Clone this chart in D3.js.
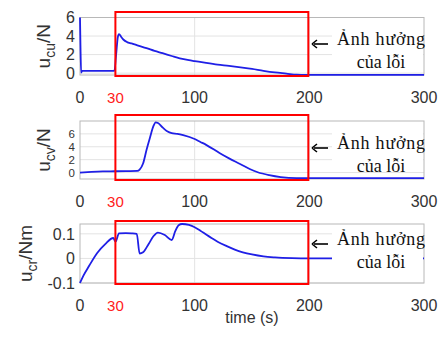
<!DOCTYPE html>
<html>
<head>
<meta charset="utf-8">
<script src="https://cdn.jsdelivr.net/npm/d3@7"></script>
<style>
  body { margin: 0; background: #fff; }
  svg { display: block; }
</style>
</head>
<body>
<figure id="chart" style="margin:0"></figure>
<script>
// time axis shared by the three panels
const xTicks = [0, 100, 200, 300];
const faultStart = 30;
const faultEnd = 200;

// u_cu (N)
const cuTime = [0, 0.4, 1, 2, 10, 20, 30, 31.5, 33, 34, 36, 38, 41, 45, 50, 58, 65, 72, 80, 87, 95, 100, 110, 120, 130, 140, 150, 160, 170, 180, 189, 200, 250, 300];
const cuValue = [6, 3, 0.05, 0.25, 0.25, 0.25, 0.25, 2.0, 3.9, 4.2, 3.9, 3.6, 3.35, 3.2, 3.0, 2.7, 2.4, 2.15, 1.85, 1.6, 1.4, 1.3, 1.1, 0.92, 0.78, 0.62, 0.45, 0.25, 0.08, -0.05, -0.17, -0.18, -0.18, -0.18];
const cuTicks = [0, 2, 4, 6];

// u_cv (N)
const cvTime = [0, 10, 20, 30, 40, 50, 52, 55, 58, 61, 64, 66, 68, 72, 76, 80, 85, 90, 100, 105, 110, 122, 130, 140, 148, 155, 165, 175, 189, 200, 250, 300];
const cvValue = [0, 0.1, 0.17, 0.2, 0.23, 0.25, 0.45, 1.4, 3.5, 5.4, 7.2, 7.8, 7.7, 7.0, 6.4, 6.1, 6.0, 5.8, 5.2, 4.75, 4.3, 3.0, 2.2, 1.3, 0.55, 0.05, -0.4, -0.7, -0.85, -0.85, -0.85, -0.85];
const cvTicks = [0, 2, 4, 6];

// u_cr (Nm)
const crTime = [0, 3, 8, 15, 22, 29, 31, 34, 40, 45, 49.5, 52, 55, 60, 64, 68, 74, 80, 83, 86, 89, 95, 100, 105, 110, 115, 120, 128, 135, 142, 150, 160, 170, 185, 200, 250, 300];
const crValue = [-0.1, -0.07, -0.03, 0.022, 0.058, 0.083, 0.068, 0.102, 0.103, 0.102, 0.1, 0.02, 0.025, 0.06, 0.09, 0.105, 0.095, 0.075, 0.11, 0.135, 0.14, 0.136, 0.127, 0.113, 0.097, 0.082, 0.068, 0.05, 0.036, 0.025, 0.016, 0.008, 0.004, 0.001, 0, 0, 0];
const crTicks = [-0.1, 0, 0.1];

const panels = [
  { time: cuTime, value: cuValue, ticks: cuTicks, domain: [-0.2, 6], top: 17.5, bottom: 75,
    label: ["u", "cu", "/N"], labelX: 50, tickSize: 16, rectTop: 12, noteY: 40 },
  { time: cvTime, value: cvValue, ticks: cvTicks, domain: [-1, 8], top: 121, bottom: 179,
    label: ["u", "cv", "/N"], labelX: 50, tickSize: 11.5, rectTop: 115, noteY: 144 },
  { time: crTime, value: crValue, ticks: crTicks, domain: [-0.1, 0.14], top: 224, bottom: 283,
    label: ["u", "cr", "/Nm"], labelX: 32, tickSize: 16, rectTop: 221, noteY: 240 }
];

const width = 441, height = 338;
const left = 80, right = 424;
const grey = "#333";
const fmtY = (d) => (d === 0 ? "0" : Number.isInteger(d) ? String(d) : d.toFixed(1));

const svg = d3.select("#chart").append("svg")
  .attr("width", width)
  .attr("height", height);

const x = d3.scaleLinear().domain([0, 300]).range([left, right]);

panels.forEach((p) => {
  const y = d3.scaleLinear().domain(p.domain).range([p.bottom, p.top]);
  const g = svg.append("g");

  // grid
  g.selectAll(".gy").data(p.ticks).enter().append("line")
    .attr("x1", left).attr("x2", right)
    .attr("y1", (d) => y(d)).attr("y2", (d) => y(d))
    .attr("stroke", "#e3e3e3").attr("stroke-width", 1);
  g.selectAll(".gx").data(xTicks.slice(1, -1)).enter().append("line")
    .attr("x1", (d) => x(d)).attr("x2", (d) => x(d))
    .attr("y1", p.top).attr("y2", p.bottom)
    .attr("stroke", "#e3e3e3").attr("stroke-width", 1);

  // axes box
  g.append("rect")
    .attr("x", left).attr("y", p.top)
    .attr("width", right - left).attr("height", p.bottom - p.top)
    .attr("fill", "none").attr("stroke", "#b8b8b8").attr("stroke-width", 1);

  // curve
  const line = d3.line()
    .x((d) => x(d[0]))
    .y((d) => y(d[1]))
    .curve(d3.curveMonotoneX);
  g.append("path")
    .datum(d3.zip(p.time, p.value))
    .attr("d", line)
    .attr("fill", "none")
    .attr("stroke", "#1f1fe6")
    .attr("stroke-width", 1.8);

  // y tick labels
  g.selectAll(".ty").data(p.ticks).enter().append("text")
    .attr("x", left - 5)
    .attr("y", (d) => y(d))
    .attr("dy", "0.36em")
    .attr("text-anchor", "end")
    .attr("fill", grey)
    .style("font", p.tickSize + "px 'Liberation Sans', Arial, sans-serif")
    .text(fmtY);

  // x tick labels
  g.selectAll(".tx").data(xTicks).enter().append("text")
    .attr("x", (d) => x(d))
    .attr("y", p.bottom + 28)
    .attr("text-anchor", "middle")
    .attr("fill", grey)
    .style("font", "16px 'Liberation Sans', Arial, sans-serif")
    .text((d) => d);
  g.append("text")
    .attr("x", x(faultStart) + 1)
    .attr("y", p.bottom + 28)
    .attr("text-anchor", "middle")
    .attr("fill", "#ff2020")
    .style("font", "15px 'Liberation Sans', Arial, sans-serif")
    .text(faultStart);

  // y label
  const lab = g.append("text")
    .attr("transform", `translate(${p.labelX},${(p.top + p.bottom) / 2}) rotate(-90)`)
    .attr("text-anchor", "middle")
    .attr("fill", grey)
    .style("font", "19px 'Liberation Sans', Arial, sans-serif");
  lab.append("tspan").text(p.label[0]);
  lab.append("tspan").attr("dy", 5).style("font-size", "14px").text(p.label[1]);
  lab.append("tspan").attr("dy", -5).text(p.label[2]);

  // fault region
  g.append("rect")
    .attr("x", x(faultStart) + 1).attr("y", p.rectTop)
    .attr("width", x(faultEnd) - x(faultStart) - 2).attr("height", p.bottom + 1 - p.rectTop)
    .attr("fill", "none").attr("stroke", "#ff0000").attr("stroke-width", 2);

  // note
  g.append("rect")
    .attr("x", 332).attr("y", p.noteY - 13)
    .attr("width", 91).attr("height", 37)
    .attr("fill", "#fff");
  const ay = p.noteY + 4;
  g.append("line")
    .attr("x1", 314).attr("x2", 328)
    .attr("y1", ay).attr("y2", ay)
    .attr("stroke", "#000").attr("stroke-width", 1.6);
  g.append("path")
    .attr("d", `M312,${ay} l5,-4 M312,${ay} l5,4`)
    .attr("fill", "none").attr("stroke", "#000").attr("stroke-width", 1.6);
  g.append("text")
    .attr("x", 381).attr("y", p.noteY + 5)
    .attr("text-anchor", "middle")
    .attr("fill", "#111")
    .attr("textLength", 88)
    .style("font", "18px 'Liberation Serif', 'Times New Roman', serif")
    .text("Ảnh hưởng");
  g.append("text")
    .attr("x", 381).attr("y", p.noteY + 28)
    .attr("text-anchor", "middle")
    .attr("fill", "#111")
    .style("font", "18px 'Liberation Serif', 'Times New Roman', serif")
    .text("của lỗi");
});

svg.append("text")
  .attr("x", (left + right) / 2)
  .attr("y", 323)
  .attr("text-anchor", "middle")
  .attr("fill", grey)
  .style("font", "16px 'Liberation Sans', Arial, sans-serif")
  .text("time (s)");
</script>
</body>
</html>
